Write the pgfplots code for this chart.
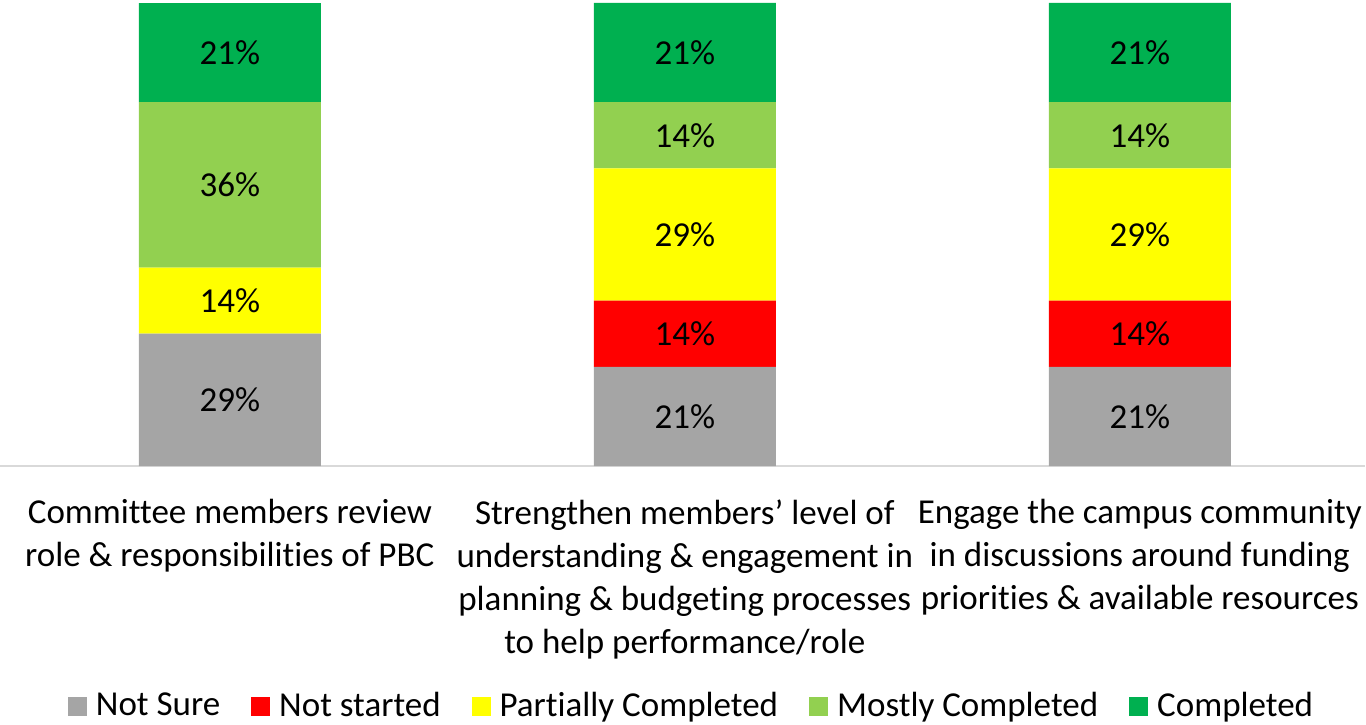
\documentclass[border=0pt]{standalone}
\usepackage{pgfplots}
\pgfplotsset{compat=1.18}
\usepackage{fontspec}
\setmainfont{Carlito}[Ligatures=NoCommon]
\definecolor{notsure}{HTML}{A5A5A5}
\definecolor{notstarted}{HTML}{FF0000}
\definecolor{partial}{HTML}{FFFF00}
\definecolor{mostly}{HTML}{92D050}
\definecolor{done}{HTML}{00B050}
\definecolor{axisgray}{HTML}{D9D9D9}
\newcommand\chartfont{\fontsize{17.5pt}{21.5pt}\selectfont}
\begin{document}
\begin{tikzpicture}
\path[use as bounding box] (0,0) rectangle (683pt,-362pt);
\begin{axis}[
    at={(0,-1.5pt)}, anchor=north west,
    x=227.5pt, y=2.315pt,
    xmin=-0.505, xmax=2.495, ymin=0, ymax=100,
    clip=false,
    ybar stacked, bar width=91pt,
    axis y line=none,
    axis x line*=bottom,
    x axis line style={draw=axisgray, line width=1pt},
    xtick={0,1,2},
    xtick style={draw=none},
    xticklabels={
        {Committee members review\\role \& responsibilities of PBC},
        {Strengthen members’ level of\\understanding \& engagement in\\planning \& budgeting processes\\to help performance/role},
        {Engage the campus community\\in discussions around funding\\priorities \& available resources}},
    xticklabel style={align=center, anchor=north, inner sep=0pt, yshift=-16.5pt, font=\chartfont},
    point meta=explicit symbolic,
    nodes near coords,
    every node near coord/.append style={anchor=center, font=\chartfont, text=black},
    legend columns=-1,
    legend style={draw=none, at={(0.5,0)}, anchor=center, xshift=5pt, yshift=-120pt, font=\chartfont,
        /tikz/every odd column/.append style={column sep=2.5pt},
        /tikz/every even column/.append style={column sep=13.5pt}},
    legend image code/.code={\fill[#1] (0pt,-4.75pt) rectangle (9.5pt,4.75pt);},
]
\addplot[fill=notsure, draw=none] coordinates {(0,28.57) [29\%] (1,21.43) [21\%] (2,21.43) [21\%]};
\addlegendentry{Not Sure}
\addplot[fill=notstarted, draw=none] coordinates {(0,0) [] (1,14.29) [14\%] (2,14.29) [14\%]};
\addlegendentry{Not started}
\addplot[fill=partial, draw=none] coordinates {(0,14.29) [14\%] (1,28.57) [29\%] (2,28.57) [29\%]};
\addlegendentry{Partially Completed}
\addplot[fill=mostly, draw=none] coordinates {(0,35.71) [36\%] (1,14.29) [14\%] (2,14.29) [14\%]};
\addlegendentry{Mostly Completed}
\addplot[fill=done, draw=none] coordinates {(0,21.43) [21\%] (1,21.43) [21\%] (2,21.43) [21\%]};
\addlegendentry{Completed}
\end{axis}
\end{tikzpicture}
\end{document}
